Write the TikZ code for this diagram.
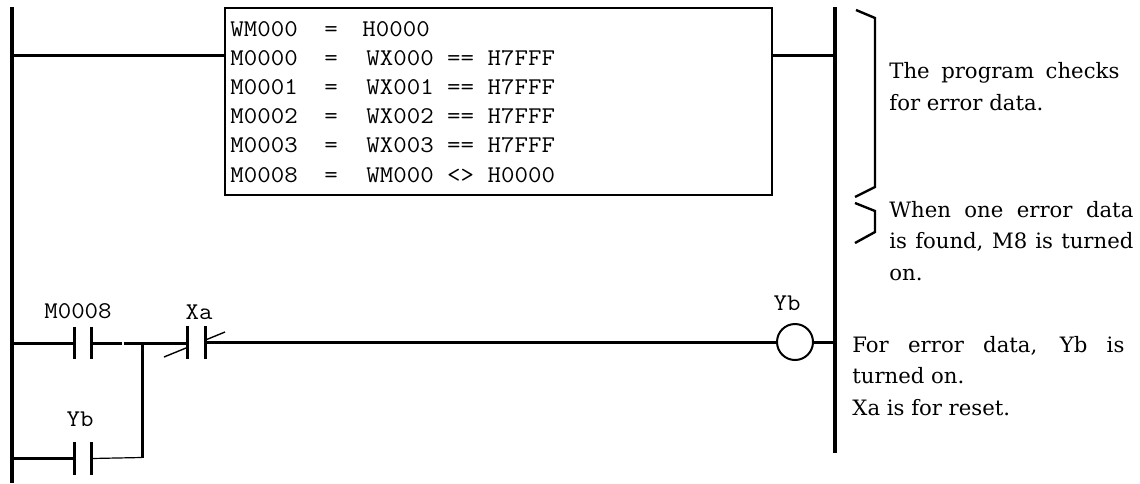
\documentclass[tikz,border=0pt]{standalone}
\usepackage{fontspec}
\newfontfamily\notefont{DejaVu Serif}
\usetikzlibrary{positioning}
\newcommand{\wide}[1]{\scalebox{1.09}[1]{#1}}
\tikzset{
  rail/.style={line width=1.6pt},
  wire/.style={line width=1.5pt},
  plate/.style={line width=1.5pt},
  contact/.style={minimum width=8pt, minimum height=16pt, inner sep=0pt},
  coilshape/.style={circle, draw, line width=1pt, minimum size=18pt, inner sep=0pt},
  code/.style={font=\ttfamily\fontsize{12}{14}\selectfont, inner sep=0pt},
  note/.style={font=\notefont\fontsize{10.6}{15.75}\selectfont, inner sep=0pt, anchor=base west, align=left},
  brace/.style={line width=1.2pt},
}
\begin{document}
\begin{tikzpicture}[x=0.5pt,y=-0.5pt]
    \useasboundingbox (0,0) rectangle (1140,483);
    % power rails
    \coordinate (lrtop) at (12,7);
    \coordinate (lrbot) at (12,483);
    \coordinate (rrtop) at (835,7);
    \coordinate (rrbot) at (835,453);
    \draw[rail] (lrtop) -- (lrbot);
    \draw[rail] (rrtop) -- (rrbot);

    % rung 1 : compare block
    \node[draw, line width=0.8pt, minimum width=273.5pt, minimum height=93.5pt, inner sep=0pt] (calc) at (498.5,101.5) {};
    \coordinate (r1) at (12,55);
    \draw[wire] (r1) -- (r1 -| calc.west);
    \draw[wire] (calc.east |- r1) -- (r1 -| rrtop);
    \foreach \lhs/\rhs/\dx [count=\i from 0] in {WM000/H0000/-4, M0000/WX000 == H7FFF/0, M0001/WX001 == H7FFF/0, M0002/WX002 == H7FFF/0, M0003/WX003 == H7FFF/0, M0008/WM000 <> H0000/0} {
        \node[code, anchor=base west] (lhs\i) at (230,36.5+29.1*\i) {\wide{\lhs}};
        \node[code, anchor=base] (eq\i) at (331,36.5+29.1*\i) {\wide{=}};
        \node[code, anchor=base west] (rhs\i) at (366+\dx,36.5+29.1*\i) {\wide{\rhs}};
    }

    % rung 2 : self holding circuit
    \node[contact] (cm8) at (83,343) {};
    \node[contact] (cyb) at (83,458.5) {};
    \node[contact, minimum width=8.5pt] (cxa) at (196.5,342.5) {};
    \node[coilshape] (coil) at (795,342) {};
    \draw[plate] (cm8.north west) -- (cm8.south west) (cm8.north east) -- (cm8.south east);
    \draw[plate] (cyb.north west) -- (cyb.south west) (cyb.north east) -- (cyb.south east);
    \draw[plate] (cxa.north west) -- (cxa.south west) (cxa.north east) -- (cxa.south east);
    \draw[line width=0.7pt] (164,357) -- (188,347.2) (205,340.2) -- (225,332);
    \coordinate (gap) at (123,343);
    \coordinate (jn) at (142,343);
    \coordinate (jb) at (142,457.5);
    \draw[wire] (lrtop |- cm8) -- (cm8.west);
    \draw[wire] (cm8.east) -- ([xshift=-0.6pt]gap);
    \draw[wire] ([xshift=0.6pt]gap) -- (cxa.west |- gap);
    \draw[wire] (cxa.east |- coil) -- (coil.west);
    \draw[wire] (coil.east) -- (coil.east -| rrtop);
    \draw[wire] (jn) -- (jb);
    \draw[wire] (lrtop |- cyb) -- (cyb.west);
    \draw[line width=0.6pt] (cyb.east) -- (jb);

    \node[code, anchor=base] (lm8) at (78,318) {\wide{M0008}};
    \node[code, anchor=base] (lxa) at (199,319) {\wide{Xa}};
    \node[code, anchor=base] (lyb) at (80,426.5) {\wide{Yb}};
    \node[code, anchor=base] (lcoil) at (787,310) {\wide{Yb}};

    % comments
    \draw[brace] (856,10) -- (875,18) -- (875,187) -- (855,197);
    \draw[brace] (855,203) -- (875,211) -- (875,232) -- (855,243);
    \node[note] (note1) at (889,110) {\makebox[115pt][s]{The program checks}\\for error data.};
    \node[note] (note2) at (889,280) {\makebox[122pt][s]{When one error data}\\\makebox[122pt][s]{is found, M8 is turned}\\on.};
    \node[note] (note3) at (852,415) {\makebox[136pt][s]{For error data, Yb is}\\turned on.\\Xa is for reset.};
\end{tikzpicture}
\end{document}
